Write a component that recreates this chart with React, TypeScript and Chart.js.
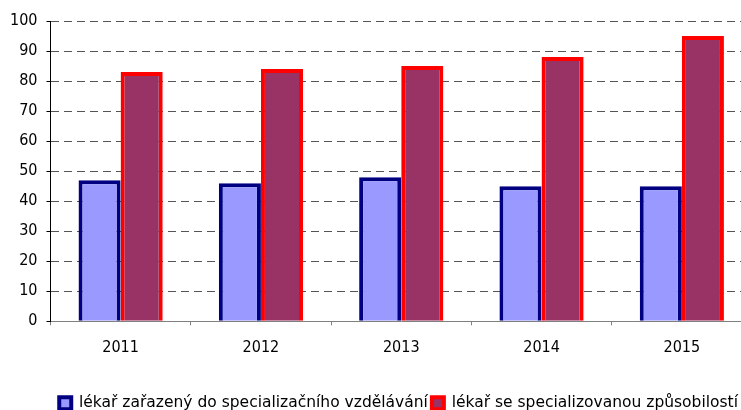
import React, { useEffect, useRef } from "react";
import { Chart, registerables } from "chart.js";

Chart.register(...registerables);

const categories = ["2011", "2012", "2013", "2014", "2015"];
const seriesInTraining = [47, 46, 48, 45, 45];
const seriesSpecialized = [83, 84, 85, 88, 95];
const seriesLabels = [
  "lékař zařazený do specializačního vzdělávání",
  "lékař se specializovanou způsobilostí",
];
const yTicksMax = 100;
const yTicksStep = 10;

const FONT = "'DejaVu Sans Condensed', 'DejaVu Sans', sans-serif";
const LEGEND_FONT = "'DejaVu Sans', sans-serif";

const legendShift = {
  id: "legendShift",
  afterLayout(chart: any) {
    const lg = chart.legend;
    if (lg) {
      lg.left -= 10;
      lg.right -= 10;
    }
  },
};

export default function App() {
  const ref = useRef<HTMLCanvasElement | null>(null);

  useEffect(() => {
    if (!ref.current) return;
    const chart = new Chart(ref.current, {
      type: "bar",
      data: {
        labels: categories,
        datasets: [
          {
            label: seriesLabels[0],
            data: seriesInTraining,
            backgroundColor: "#9999FF",
            borderColor: "#000080",
            borderWidth: 4,
            categoryPercentage: 0.6,
            barPercentage: 1,
          },
          {
            label: seriesLabels[1],
            data: seriesSpecialized,
            backgroundColor: "#993366",
            borderColor: "#FF0000",
            borderWidth: 4,
            categoryPercentage: 0.6,
            barPercentage: 1,
          },
        ],
      },
      options: {
        animation: false,
        responsive: false,
        maintainAspectRatio: false,
        layout: { padding: { top: 21, left: 1, right: 0, bottom: 0 } },
        plugins: {
          tooltip: { enabled: false },
          legend: {
            position: "bottom",
            align: "end",
            labels: {
              font: { family: LEGEND_FONT, size: 15.5 },
              color: "#000",
              boxWidth: 12,
              boxHeight: 12,
              padding: 4,
            },
          },
        },
        scales: {
          x: {
            grid: {
              offset: true,
              drawOnChartArea: false,
              tickLength: 4,
              tickColor: "#808080",
            },
            border: { color: "#808080", width: 1 },
            ticks: {
              font: { family: FONT, size: 16 },
              color: "#000",
              padding: 13,
            },
            afterFit: (axis: any) => {
              axis.height += 21;
            },
          },
          y: {
            min: 0,
            max: yTicksMax,
            ticks: {
              stepSize: yTicksStep,
              font: { family: FONT, size: 16 },
              color: "#000",
              padding: 9,
            },
            grid: {
              color: "#555",
              lineWidth: 1,
              tickLength: 4,
              tickColor: "#000",
            },
            border: { color: "#000", width: 1, dash: [8, 5] },
          },
        },
      },
      plugins: [legendShift],
    });
    return () => chart.destroy();
  }, []);

  return (
    <div
      style={{
        position: "fixed",
        left: 0,
        top: 0,
        width: 741,
        height: 410,
        overflow: "hidden",
        background: "#fff",
      }}
    >
      <canvas ref={ref} width={752} height={421} style={{ width: 752, height: 421 }} />
    </div>
  );
}
